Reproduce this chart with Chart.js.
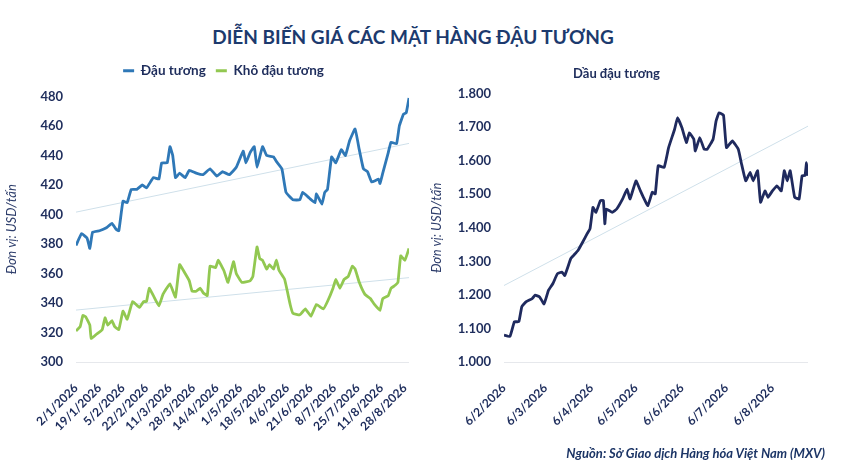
<!DOCTYPE html>
<html>
<head>
<meta charset="utf-8">
<script src="https://cdn.jsdelivr.net/npm/chart.js@4.4.1/dist/chart.umd.min.js"></script>
<style>
  body { margin: 0; background: #fff; width: 850px; height: 470px; position: relative; overflow: hidden; font-family: Lato, "Open Sans", sans-serif; }
  #title { position: absolute; left: -12px; width: 850px; top: 25px; text-align: center; font-weight: bold; font-size: 19px; color: #1c3a6e; }
  #src { position: absolute; right: 25px; top: 445px; font-style: italic; font-weight: bold; font-size: 13px; color: #1c3566; }
  #c1 { position: absolute; left: 0; top: 54px; }
  #c2 { position: absolute; left: 425px; top: 58px; }
</style>
</head>
<body>
<div id="title">DIỄN BIẾN GIÁ CÁC MẶT HÀNG ĐẬU TƯƠNG</div>
<canvas id="c1" width="447" height="380"></canvas>
<canvas id="c2" width="400" height="380"></canvas>
<div id="src">Nguồn: Sở Giao dịch Hàng hóa Việt Nam (MXV)</div>
<script>
// --- DATA ---
const soyTicks = ['2/1/2026', '19/1/2026', '5/2/2026', '22/2/2026', '11/3/2026', '28/3/2026', '14/4/2026', '1/5/2026',
  '18/5/2026', '4/6/2026', '21/6/2026', '8/7/2026', '25/7/2026', '11/8/2026', '28/8/2026'];
const oilTicks = ['6/2/2026', '6/3/2026', '6/4/2026', '6/5/2026', '6/6/2026', '6/7/2026', '6/8/2026'];

// days counted from 2/1/2026
const soyDays = [0, 4, 8, 10, 12, 17, 22, 26, 29, 31, 34, 37, 40, 44, 48, 51, 56, 60, 62, 66,
  68, 70, 72, 75, 79, 82, 87, 92, 97, 102, 106, 111, 116, 121, 123, 126, 129, 131, 135, 138,
  143, 145, 149, 152, 157, 162, 164, 169, 173, 174, 178, 180, 182, 185, 188, 192, 195, 198, 202, 205,
  208, 211, 214, 219, 220, 222, 226, 228, 232, 234, 237, 239, 241];
const soyPrice = [379, 387, 384, 377, 388, 389, 391, 394, 390, 389, 409, 408, 417, 417, 420, 418, 425, 424, 435, 435,
  446, 440, 425, 428, 425, 430, 428, 427, 431, 426, 429, 427, 432, 443, 435, 442, 446, 432, 446, 440,
  439, 436, 431, 415, 410, 410, 415, 411, 408, 414, 407, 415, 417, 439, 435, 444, 440, 450, 458, 444,
  431, 429, 422, 424, 421, 428, 442, 449, 448, 460, 468, 469, 479];

const mealDays = [0, 3, 5, 7, 10, 11, 15, 19, 21, 23, 26, 28, 31, 34, 37, 41, 46, 49, 51, 53,
  56, 60, 63, 68, 72, 75, 79, 82, 84, 87, 90, 92, 95, 97, 101, 103, 107, 110, 114, 116,
  120, 126, 128, 131, 133, 135, 138, 140, 143, 145, 147, 151, 155, 157, 162, 166, 170, 174, 179, 182,
  186, 188, 191, 194, 197, 200, 202, 205, 209, 213, 216, 220, 222, 226, 228, 231, 233, 235, 238, 241];
const mealPrice = [321, 324, 331.6, 330.7, 325, 316, 319, 322, 330, 325, 328, 324, 322, 334.5, 329, 341, 337, 341, 341, 350,
  345, 338, 346, 353, 344, 366, 360, 355, 348, 348, 350, 347, 345, 365, 364, 369, 362, 354, 368, 360,
  354, 355, 358, 378, 370, 369, 363, 366, 363, 369, 362, 356, 339, 333, 332, 336, 331, 339, 336, 341,
  350, 356, 350, 356, 358, 365, 363, 354, 346, 343, 339, 335, 343, 345, 350, 352, 354, 372, 369, 377];

// days counted from 6/2/2026
const oilDays = [0, 4, 7, 10, 12, 15, 19, 21, 24, 27, 30, 33, 36, 39, 41, 45, 47, 50, 53, 56,
  58, 60, 62, 65, 67, 68, 69, 73, 76, 80, 83, 85, 89, 92, 94, 97, 100, 102, 104, 108,
  111, 115, 117, 120, 123, 125, 128, 129, 132, 135, 137, 141, 143, 145, 148, 150, 154, 158, 160, 163,
  166, 168, 171, 173, 176, 178, 181, 184, 187, 189, 191, 193, 196, 199, 201, 203, 204, 205];
const oilPrice = [1080, 1076, 1120, 1120, 1165, 1180, 1189, 1199, 1194, 1173, 1214, 1234, 1263, 1268, 1258, 1308, 1318, 1333, 1357, 1382,
  1397, 1461, 1446, 1481, 1481, 1412, 1456, 1446, 1456, 1486, 1515, 1486, 1540, 1510, 1491, 1466, 1506, 1501, 1585, 1580,
  1639, 1693, 1728, 1698, 1654, 1683, 1664, 1629, 1669, 1634, 1634, 1664, 1718, 1743, 1736, 1639, 1659, 1634, 1594, 1540,
  1565, 1540, 1570, 1476, 1510, 1491, 1510, 1525, 1510, 1570, 1540, 1570, 1491, 1486, 1555, 1556, 1594, 1555];

// linear trend lines: value at first and last day
const soyTrend = [401.6, 448.2];
const mealTrend = [335.2, 357.2];
const oilTrend = [1228, 1703];

// --- HELPERS ---
const dayOf = s => { const [d, m, y] = s.split('/').map(Number); return Date.UTC(y, m - 1, d) / 86400000; };
const pts = (xs, ys) => xs.map((x, i) => ({ x: x, y: ys[i] }));
const trendPts = (xs, tr) => [{ x: xs[0], y: tr[0] }, { x: xs[xs.length - 1], y: tr[1] }];

const NAVY = '#1e2d5c';
Chart.defaults.font.family = 'Lato, "Open Sans", sans-serif';
Chart.defaults.color = NAVY;

const lineDs = (label, data, color) => ({ label, data, borderColor: color, backgroundColor: color, borderWidth: 2.8, pointRadius: 0, tension: 0.1 });
const trendDs = (data) => ({ label: 'trend', data, borderColor: '#cfe0ea', borderWidth: 1, pointRadius: 0 });

// legend: extra gap below it, and shift it right
const legendTweak = {
  id: 'legendTweak',
  beforeInit(chart) {
    const fit = chart.legend.fit;
    chart.legend.fit = function () { fit.call(this); this.height += 9; };
  },
  afterLayout(chart) { chart.legend.right += 38; }
};

function xScale(ticks, maxDay, h) {
  const start = dayOf(ticks[0]);
  return {
    type: 'linear', min: 0, max: maxDay,
    afterBuildTicks: s => { s.ticks = ticks.map(t => ({ value: dayOf(t) - start })); },
    afterFit: s => { s.height = h; },
    grid: { display: false }, border: { display: false },
    ticks: { autoSkip: false, maxRotation: 45, minRotation: 45, padding: 11, color: NAVY,
      font: { size: 12, weight: 'bold' }, callback: (v, i) => ticks[i] }
  };
}

function yScale(min, max, step, w, fmt) {
  return {
    min, max,
    afterFit: s => { s.width = w; },
    border: { display: false },
    grid: { drawTicks: false, color: c => c.tick.value === min ? '#e6e8ec' : 'rgba(0,0,0,0)' },
    ticks: { stepSize: step, padding: 13, color: NAVY, font: { size: 13, weight: 'bold' }, callback: fmt },
    title: { display: true, text: 'Đơn vị: USD/tấn', color: '#2d3d6b', font: { size: 13, style: 'italic' }, padding: { top: 4, bottom: 4 } }
  };
}

// --- LEFT CHART ---
new Chart(document.getElementById('c1'), {
  type: 'line',
  data: {
    datasets: [
      lineDs('Đậu tương', pts(soyDays, soyPrice), '#2f78b7'),
      lineDs('Khô đậu tương', pts(mealDays, mealPrice), '#92c851'),
      trendDs(trendPts(soyDays, soyTrend)),
      trendDs(trendPts(mealDays, mealTrend))
    ]
  },
  options: {
    responsive: false, animation: false,
    layout: { padding: { left: 0, right: 38, top: 0, bottom: 0 } },
    plugins: {
      legend: { position: 'top',
        labels: { usePointStyle: true, pointStyle: 'line', pointStyleWidth: 11, padding: 10, color: NAVY,
          font: { size: 13.5, weight: 'bold' }, filter: item => item.text !== 'trend' } },
      tooltip: { enabled: false }
    },
    scales: {
      x: xScale(soyTicks, 241, 72),
      y: yScale(300, 480, 20, 76, v => v)
    }
  },
  plugins: [legendTweak]
});

// --- RIGHT CHART ---
new Chart(document.getElementById('c2'), {
  type: 'line',
  data: {
    datasets: [
      lineDs('Dầu đậu tương', pts(oilDays, oilPrice), '#1f2a5e'),
      trendDs(trendPts(oilDays, oilTrend))
    ]
  },
  options: {
    responsive: false, animation: false,
    layout: { padding: { left: 0, right: 17, top: 0, bottom: 0 } },
    plugins: {
      legend: { display: false },
      title: { display: true, text: 'Dầu đậu tương', color: NAVY, font: { size: 13, weight: 'bold' }, padding: { top: 8, bottom: 12 } },
      tooltip: { enabled: false }
    },
    scales: {
      x: xScale(oilTicks, 205, 76),
      y: yScale(1000, 1800, 100, 79, v => (v / 1000).toFixed(3))
    }
  }
});
</script>
</body>
</html>
